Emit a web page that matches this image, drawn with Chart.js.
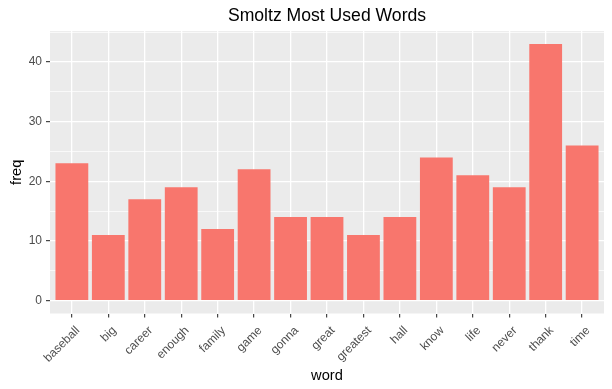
<!DOCTYPE html>
<html>
<head>
<meta charset="utf-8">
<script src="https://cdn.jsdelivr.net/npm/chart.js@4"></script>
<style>
  html, body { margin: 0; padding: 0; background: #ffffff; }
  #wrap { width: 612px; height: 389px; }
</style>
</head>
<body>
<div id="wrap"><canvas id="c" width="612" height="389"></canvas></div>
<script>
const words = ["baseball", "big", "career", "enough", "family", "game", "gonna", "great", "greatest", "hall", "know", "life", "never", "thank", "time"];
const freq = [23, 11, 17, 19, 12, 22, 14, 14, 11, 14, 24, 21, 19, 43, 26];
const yTicks = [0, 5, 10, 15, 20, 25, 30, 35, 40, 45];
const yMajor = [0, 10, 20, 30, 40];

const FONT = '"Liberation Sans", Arial, sans-serif';

const panelBg = {
  id: 'panelBg',
  beforeDraw(chart) {
    const a = chart.chartArea, ctx = chart.ctx;
    ctx.save();
    ctx.fillStyle = '#EBEBEB';
    ctx.fillRect(a.left, a.top, a.right - a.left, a.bottom - a.top);
    ctx.restore();
  }
};

// ggplot-style justification for rotated x labels (hjust = 1 at the tick)
const labelShift = {
  id: 'labelShift',
  beforeDraw(chart) {
    const s = chart.scales.x;
    const items = s.getLabelItems();
    if (items && !items._shifted) {
      items.forEach(it => {
        const t = it.options.translation;
        it.options.translation = [t[0] + 6, t[1]];
      });
      items._shifted = true;
    }
  }
};

const isMajor = v => yMajor.includes(v);

new Chart(document.getElementById('c'), {
  type: 'bar',
  data: {
    datasets: [{
      label: 'freq',
      data: freq.map((v, i) => ({ x: i, y: v })),
      backgroundColor: '#F8766D',
      borderWidth: 0,
      barPercentage: 0.9,
      categoryPercentage: 1.0
    }]
  },
  options: {
    responsive: false,
    animation: false,
    devicePixelRatio: 1,
    layout: { padding: { left: 0, right: 8, top: 0, bottom: 0 } },
    plugins: {
      legend: { display: false },
      tooltip: { enabled: false },
      title: {
        display: true,
        text: 'Smoltz Most Used Words',
        color: '#000000',
        fullSize: false,
        font: { family: FONT, size: 17.6, weight: 'normal' },
        padding: { top: 6, bottom: 4 }
      }
    },
    scales: {
      x: {
        type: 'linear',
        min: -0.6,
        max: 14.6,
        offset: false,
        afterBuildTicks: s => { s.ticks = words.map((_, i) => ({ value: i })); },
        afterFit: s => { s.height = 75.5; },
        border: { display: false },
        grid: {
          offset: false,
          color: '#FFFFFF',
          lineWidth: 1.3,
          drawTicks: true,
          tickLength: 4,
          tickColor: '#333333',
          tickWidth: 1.1
        },
        ticks: {
          autoSkip: false,
          maxRotation: 45,
          minRotation: 45,
          padding: 6,
          color: '#4D4D4D',
          font: { family: FONT, size: 12 },
          callback: v => words[v]
        },
        title: {
          display: true,
          text: 'word',
          color: '#000000',
          font: { family: FONT, size: 14.67 },
          padding: { top: 0, bottom: 4 }
        }
      },
      y: {
        type: 'linear',
        min: -2.15,
        max: 45.15,
        afterBuildTicks: s => { s.ticks = yTicks.map(v => ({ value: v })); },
        afterFit: s => { s.width = 50; },
        border: { display: false },
        grid: {
          color: '#FFFFFF',
          lineWidth: c => isMajor(c.tick.value) ? 1.3 : 0.7,
          drawTicks: true,
          tickLength: 4,
          tickColor: c => isMajor(c.tick.value) ? '#333333' : 'rgba(0,0,0,0)',
          tickWidth: 1.1
        },
        ticks: {
          autoSkip: false,
          padding: 4,
          color: '#4D4D4D',
          font: { family: FONT, size: 12 },
          callback: v => isMajor(v) ? String(v) : ''
        },
        title: {
          display: true,
          text: 'freq',
          color: '#000000',
          font: { family: FONT, size: 14.67 },
          padding: { top: 8, bottom: 0 }
        }
      }
    }
  },
  plugins: [panelBg, labelShift]
});
</script>
</body>
</html>
